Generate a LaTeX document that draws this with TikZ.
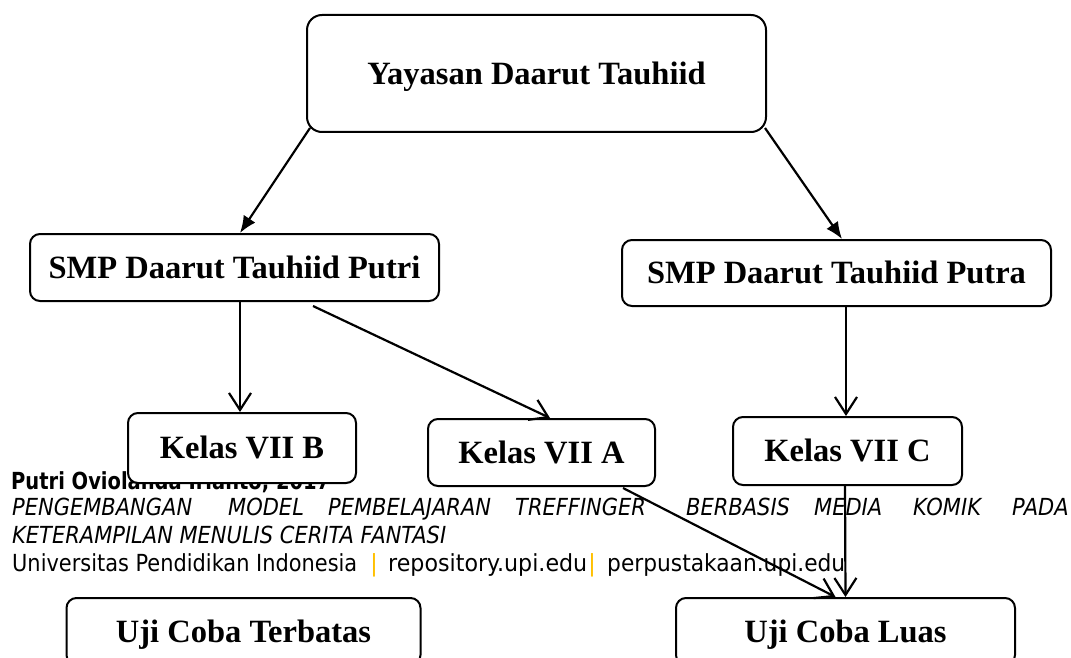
\documentclass[tikz,border=0pt]{standalone}
\usepackage{fontspec}
\usepackage{graphicx}
\setmainfont{Liberation Serif}
\newfontfamily\footfont{DejaVu Sans}
\usetikzlibrary{arrows.meta,calc}
\definecolor{barorange}{RGB}{255,192,0}
\newlength\refw
\newsavebox\refbox
\begin{document}
\sbox\refbox{\footfont\fontsize{23.5}{28}\selectfont\itshape KETERAMPILAN MENULIS CERITA FANTASI}%
\setlength\refw{\wd\refbox}%
\pgfmathsetmacro\fx{434/\refw}%
\begin{tikzpicture}[x=1pt,y=-1pt,
  box/.style={draw,line width=2pt,fill=white,rounded corners=10pt,inner sep=0pt,
    font=\bfseries\fontsize{32.5}{38}\selectfont,text height=21.5pt,text depth=0pt},
  ft/.style={anchor=base west,inner sep=0pt,font=\footfont\fontsize{23.5}{28}\selectfont},
  solidarrow/.style={line width=2.2pt,-{Latex[length=17pt,width=14pt]}},
  openarrow/.style={line width=2.2pt,-{Straight Barb[length=17pt,width=22pt]}}]
\useasboundingbox (0,0) rectangle (1071,658);
\clip (0,0) rectangle (1071,658);
\fill[white] (0,0) rectangle (1071,658);
% footer text (behind boxes)
\node[ft] (l1) at (11,489) {\resizebox{319pt}{\height}{\bfseries Putri Oviolanda Irianto, 2017}};
\node[ft] (w1) at (12,515) {\scalebox{\fx}[1]{\itshape PENGEMBANGAN}};
\node[ft] (w2) at (228,515) {\scalebox{\fx}[1]{\itshape MODEL}};
\node[ft] (w3) at (328,515) {\scalebox{\fx}[1]{\itshape PEMBELAJARAN}};
\node[ft] (w4) at (515,515) {\scalebox{\fx}[1]{\itshape TREFFINGER}};
\node[ft] (w5) at (686,515) {\scalebox{\fx}[1]{\itshape BERBASIS}};
\node[ft] (w6) at (814,515) {\scalebox{\fx}[1]{\itshape MEDIA}};
\node[ft] (w7) at (913,515) {\scalebox{\fx}[1]{\itshape KOMIK}};
\node[ft] (w8) at (1012,515) {\scalebox{\fx}[1]{\itshape PADA}};
\node[ft] (l3) at (12,543) {\scalebox{\fx}[1]{\itshape KETERAMPILAN MENULIS CERITA FANTASI}};
\node[ft] (l4a) at (12,571) {\resizebox{345pt}{\height}{Universitas Pendidikan Indonesia}};
\node[ft,text=barorange] (bar1) at (370,571) {|};
\node[ft] (l4b) at (388,571) {\resizebox{199pt}{\height}{repository.upi.edu}};
\node[ft,text=barorange] (bar2) at (588,571) {|};
\node[ft] (l4c) at (607,571) {\resizebox{238pt}{\height}{perpustakaan.upi.edu}};
% boxes
\node[box,minimum width=459pt,minimum height=117pt,rounded corners=15pt] (yay) at (536.5,73.5) {Yayasan Daarut Tauhiid};
\node[box,minimum width=409pt,minimum height=67pt] (putri) at (234.5,267.5) {SMP Daarut Tauhiid Putri};
\node[box,minimum width=429pt,minimum height=66pt] (putra) at (836.5,273) {SMP Daarut Tauhiid Putra};
\node[box,minimum width=228pt,minimum height=70pt] (vb) at (242,448) {Kelas VII B};
\node[box,minimum width=227pt,minimum height=67pt] (va) at (541.5,452.5) {Kelas VII A};
\node[box,minimum width=229pt,minimum height=68pt] (vc) at (847.5,451) {Kelas VII C};
\node[box,minimum width=354pt,minimum height=67pt] (terbatas) at (243.5,631.5) {Uji Coba Terbatas};
\node[box,minimum width=339pt,minimum height=67pt] (luas) at (845.5,631.5) {Uji Coba Luas};
% connectors
\draw[solidarrow] ([shift={(4,-5)}]yay.south west) -- ([xshift=5.5pt]putri.north);
\draw[solidarrow] ([shift={(-2,-5)}]yay.south east) -- ([xshift=5.5pt]putra.north);
\draw[openarrow] ([xshift=5.5pt]putri.south) -- ([xshift=-2pt]vb.north);
\draw[openarrow] ([shift={(78.5,4)}]putri.south) -- ([xshift=8.5pt]va.north);
\draw[openarrow] ([xshift=9.5pt]putra.south) -- ([xshift=-1.5pt]vc.north);
\draw[openarrow] ([shift={(-33,1)}]va.south east) -- ([xshift=-10pt]luas.north);
\draw[openarrow] ([xshift=-2.5pt]vc.south) -- (luas.north);
\end{tikzpicture}
\end{document}
